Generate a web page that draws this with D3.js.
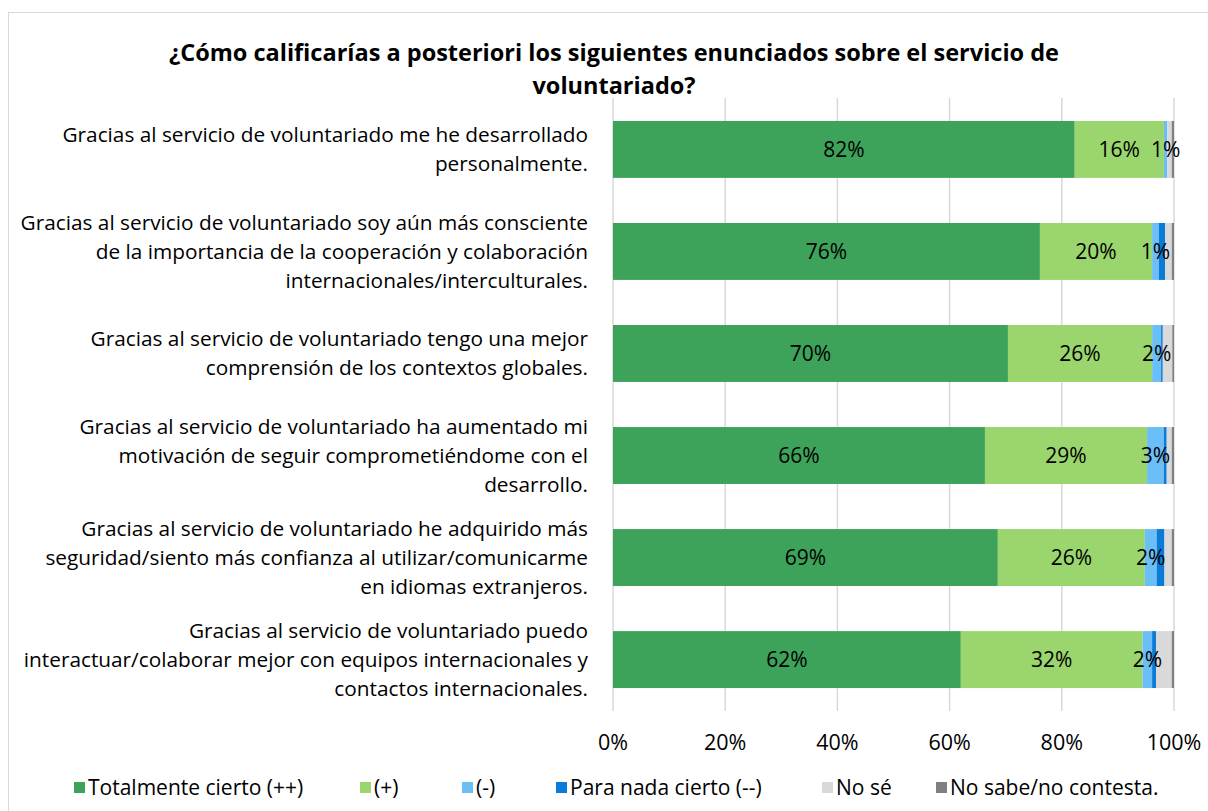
<!DOCTYPE html>
<html>
<head>
<meta charset="utf-8">
<script src="https://cdn.jsdelivr.net/npm/d3@7"></script>
<style>
  body { margin: 0; background: #fff; }
  svg { font-family: "Open Sans", sans-serif; }
</style>
</head>
<body>
<svg id="chart" width="1208" height="811"></svg>
<script>
// categories (top to bottom), each split in lines
const categories = [
    ["Gracias al servicio de voluntariado me he desarrollado", "personalmente."],
    ["Gracias al servicio de voluntariado soy aún más consciente", "de la importancia de la cooperación y colaboración", "internacionales/interculturales."],
    ["Gracias al servicio de voluntariado tengo una mejor", "comprensión de los contextos globales."],
    ["Gracias al servicio de voluntariado ha aumentado mi", "motivación de seguir comprometiéndome con el", "desarrollo."],
    ["Gracias al servicio de voluntariado he adquirido más", "seguridad/siento más confianza al utilizar/comunicarme", "en idiomas extranjeros."],
    ["Gracias al servicio de voluntariado puedo", "interactuar/colaborar mejor con equipos internacionales y", "contactos internacionales."]
];

const seriesNames = ["Totalmente cierto (++)", "(+)", "(-)", "Para nada cierto (--)", "No sé", "No sabe/no contesta."];
const seriesColors = ["#3ea35a", "#9bd56e", "#6cbef6", "#0a7bd6", "#d9d9d9", "#808080"];

// percentages per series, one value per category
const totalmente = [82.3, 76.1, 70.4, 66.3, 68.6, 62.0];
const positivo   = [15.9, 20.0, 25.7, 28.9, 26.2, 32.4];
const negativo   = [0.6, 1.2, 1.6, 3.0, 2.1, 1.7];
const paraNada   = [0.0, 1.1, 0.3, 0.5, 1.4, 0.7];
const noSe       = [0.8, 1.2, 1.7, 0.9, 1.3, 2.8];
const noContesta = [0.4, 0.4, 0.3, 0.4, 0.4, 0.4];
const seriesValues = [totalmente, positivo, negativo, paraNada, noSe, noContesta];
const labelledSeries = [0, 1, 2];

const xTicks = [0, 20, 40, 60, 80, 100];

const svg = d3.select("#chart");

// chart border
svg.append("rect")
    .attr("x", 8.5).attr("y", 12.5)
    .attr("width", 1220).attr("height", 820)
    .attr("fill", "none").attr("stroke", "#d9d9d9");

// title
svg.append("text")
    .attr("x", 614).attr("y", 61)
    .attr("text-anchor", "middle")
    .attr("font-size", 23.5).attr("font-weight", "bold")
    .text("¿Cómo calificarías a posteriori los siguientes enunciados sobre el servicio de");
svg.append("text")
    .attr("x", 614).attr("y", 94)
    .attr("text-anchor", "middle")
    .attr("font-size", 23.5).attr("font-weight", "bold")
    .text("voluntariado?");

const x = d3.scaleLinear().domain([0, 100]).range([613, 1174]);
const y = d3.scaleBand()
    .domain(d3.range(categories.length))
    .range([98, 711])
    .paddingInner(0.442)
    .paddingOuter(0.225);

// gridlines
svg.append("g").selectAll("line")
    .data(xTicks)
    .join("line")
    .attr("x1", d => x(d)).attr("x2", d => x(d))
    .attr("y1", 98).attr("y2", 711)
    .attr("stroke", "#d9d9d9").attr("stroke-width", 1.5);

// stacked bars
const stacked = categories.map((c, i) => {
    let acc = 0;
    return seriesValues.map((s, k) => {
        const seg = { cat: i, k: k, x0: acc, x1: acc + s[i], v: s[i] };
        acc += s[i];
        return seg;
    });
}).flat();

svg.append("g").selectAll("rect")
    .data(stacked)
    .join("rect")
    .attr("x", d => x(d.x0))
    .attr("width", d => Math.max(0, x(d.x1) - x(d.x0)))
    .attr("y", d => y(d.cat))
    .attr("height", y.bandwidth())
    .attr("fill", d => seriesColors[d.k]);

// data labels
svg.append("g").selectAll("text")
    .data(stacked.filter(d => labelledSeries.includes(d.k)))
    .join("text")
    .attr("x", d => x((d.x0 + d.x1) / 2))
    .attr("y", d => y(d.cat) + y.bandwidth() / 2)
    .attr("dy", "0.35em")
    .attr("text-anchor", "middle")
    .attr("font-size", 21)
    .attr("fill", "#000")
    .text(d => Math.round(d.v) + "%");

// category labels
const catG = svg.append("g");
categories.forEach((lines, i) => {
    const cy = y(i) + y.bandwidth() / 2;
    const lh = 29;
    lines.forEach((line, j) => {
        catG.append("text")
            .attr("x", 588)
            .attr("y", cy + (j - (lines.length - 1) / 2) * lh)
            .attr("dy", "0.35em")
            .attr("text-anchor", "end")
            .attr("font-size", 20.8)
            .attr("fill", "#000")
            .text(line);
    });
});

// x axis labels
svg.append("g").selectAll("text")
    .data(xTicks)
    .join("text")
    .attr("x", d => x(d))
    .attr("y", 742)
    .attr("dy", "0.35em")
    .attr("text-anchor", "middle")
    .attr("font-size", 21.5)
    .text(d => d + "%");

// legend
const legendX = [74, 360, 462, 556, 822, 936];
const legend = svg.append("g").selectAll("g")
    .data(seriesNames)
    .join("g")
    .attr("transform", (d, i) => `translate(${legendX[i]}, 788)`);
legend.append("rect")
    .attr("x", 0).attr("y", -6)
    .attr("width", 11).attr("height", 11)
    .attr("fill", (d, i) => seriesColors[i]);
legend.append("text")
    .attr("x", 14).attr("y", 0)
    .attr("dy", "0.35em")
    .attr("font-size", 21)
    .text(d => d);
</script>
</body>
</html>
